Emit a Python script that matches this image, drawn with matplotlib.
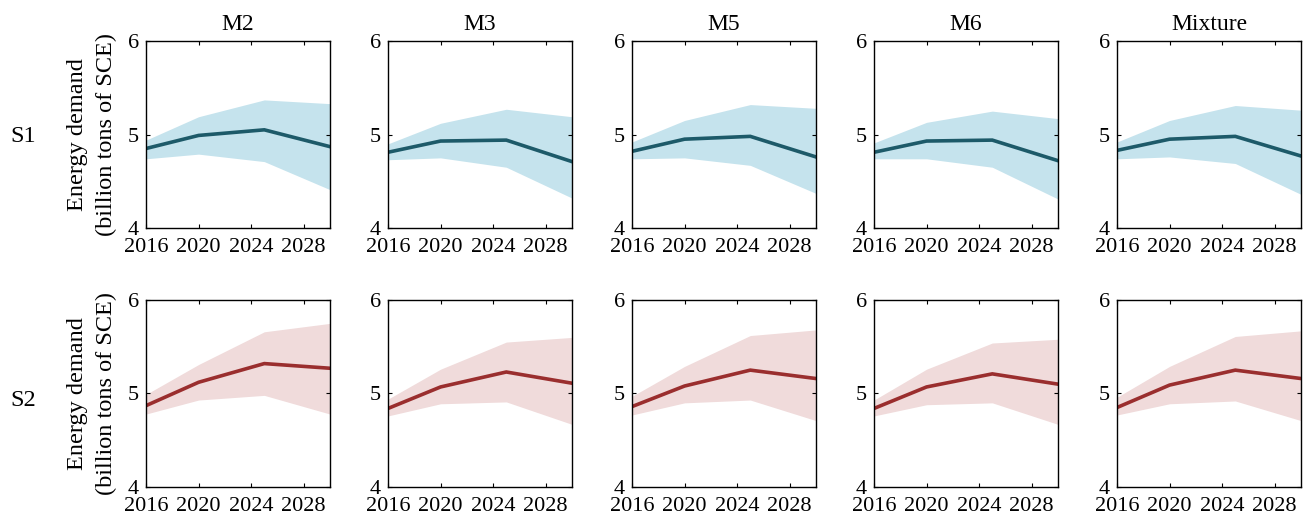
import numpy as np
import matplotlib
matplotlib.use("Agg")
import matplotlib.pyplot as plt

plt.rcParams['font.family'] = ['Liberation Serif', 'DejaVu Serif']

years = [2016, 2020, 2025, 2030]
models = ["M2", "M3", "M5", "M6", "Mixture"]
scenarios = ["S1", "S2"]

# Median energy demand and uncertainty band (billion tons of SCE)
s1_mid = {
    "M2":      [4.85, 4.99, 5.05, 4.87],
    "M3":      [4.81, 4.93, 4.94, 4.71],
    "M5":      [4.82, 4.95, 4.98, 4.76],
    "M6":      [4.81, 4.93, 4.94, 4.72],
    "Mixture": [4.83, 4.95, 4.98, 4.77],
}
s1_upper = {
    "M2":      [4.94, 5.19, 5.37, 5.33],
    "M3":      [4.90, 5.12, 5.27, 5.19],
    "M5":      [4.92, 5.15, 5.32, 5.28],
    "M6":      [4.91, 5.13, 5.25, 5.17],
    "Mixture": [4.92, 5.15, 5.31, 5.26],
}
s1_lower = {
    "M2":      [4.74, 4.79, 4.71, 4.41],
    "M3":      [4.73, 4.75, 4.65, 4.32],
    "M5":      [4.74, 4.75, 4.67, 4.37],
    "M6":      [4.74, 4.74, 4.65, 4.31],
    "Mixture": [4.74, 4.76, 4.69, 4.36],
}
s2_mid = {
    "M2":      [4.87, 5.12, 5.32, 5.27],
    "M3":      [4.84, 5.07, 5.23, 5.11],
    "M5":      [4.86, 5.08, 5.25, 5.16],
    "M6":      [4.84, 5.07, 5.21, 5.10],
    "Mixture": [4.85, 5.09, 5.25, 5.16],
}
s2_upper = {
    "M2":      [4.99, 5.31, 5.66, 5.75],
    "M3":      [4.94, 5.26, 5.55, 5.60],
    "M5":      [4.97, 5.29, 5.62, 5.68],
    "M6":      [4.93, 5.26, 5.54, 5.58],
    "Mixture": [4.96, 5.29, 5.61, 5.67],
}
s2_lower = {
    "M2":      [4.78, 4.93, 4.98, 4.78],
    "M3":      [4.76, 4.89, 4.91, 4.67],
    "M5":      [4.77, 4.90, 4.93, 4.71],
    "M6":      [4.76, 4.88, 4.90, 4.67],
    "Mixture": [4.77, 4.89, 4.92, 4.71],
}

xticks = [2016, 2020, 2024, 2028]
yticks = [4, 5, 6]

series = {
    "S1": (s1_mid, s1_upper, s1_lower, "#1d5a69", "#c5e3ed"),
    "S2": (s2_mid, s2_upper, s2_lower, "#9a2e2e", "#f0dbdb"),
}

W, H = 1307, 522
fig = plt.figure(figsize=(W / 100, H / 100), dpi=100)

lefts = [146, 388, 632, 874, 1117]
width = 184
tops = [41, 300]
height = 187
row_label_y = [137, 401]
tick_fs = 16
title_fs = 17
label_fs = 17.5
row_fs = 17.5

for r, sc in enumerate(scenarios):
    mid, up, lo, lc, fc = series[sc]
    for c, m in enumerate(models):
        ax = fig.add_axes([lefts[c] / W, 1 - (tops[r] + height) / H,
                           width / W, height / H])
        ax.fill_between(years, lo[m], up[m], color=fc, linewidth=0)
        ax.plot(years, mid[m], color=lc, linewidth=2.6, solid_joinstyle='miter')
        ax.set_xlim(2016, 2030)
        ax.set_ylim(4, 6)
        ax.set_xticks(xticks)
        ax.set_yticks(yticks)
        ax.tick_params(direction='in', top=True, right=True, length=3,
                       labelsize=tick_fs, width=0.8)
        ax.tick_params(axis='x', pad=7)
        ax.tick_params(axis='y', pad=5)
        for sp in ax.spines.values():
            sp.set_linewidth(1.0)
        if r == 0:
            ax.set_title(m, fontsize=title_fs, pad=8)
        if c == 0:
            ax.set_ylabel("Energy demand\n(billion tons of SCE)", fontsize=label_fs,
                          linespacing=1.5, labelpad=8)
            fig.text(23 / W, 1 - row_label_y[r] / H, sc,
                     fontsize=row_fs, ha='center', va='center')

fig.savefig("out.png", dpi=100)
